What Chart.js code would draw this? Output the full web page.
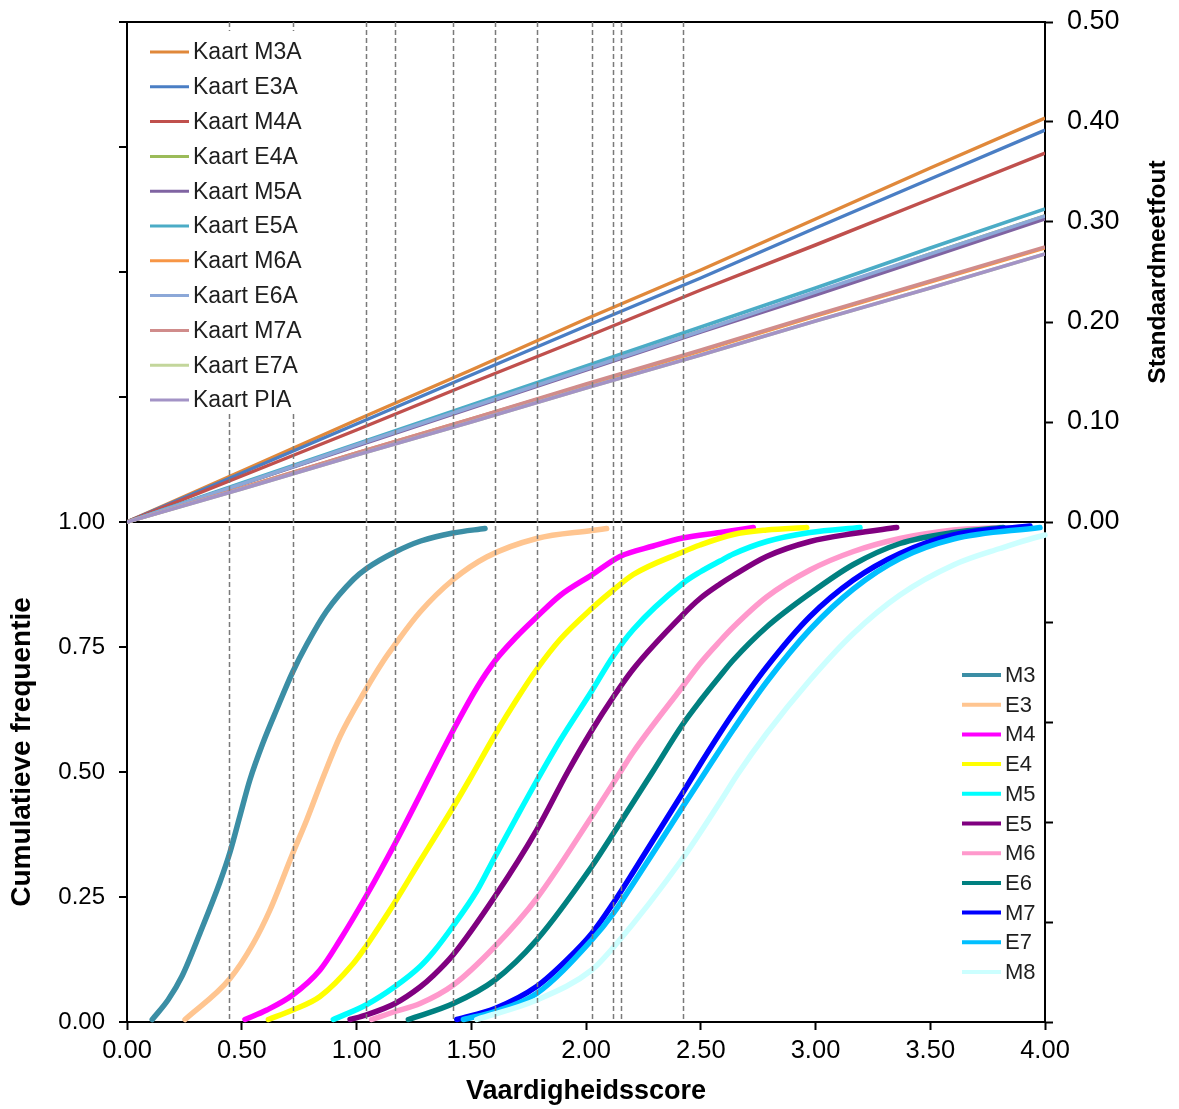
<!DOCTYPE html>
<html>
<head>
<meta charset="utf-8">
<title>Vaardigheidsscore – standaardmeetfout en cumulatieve frequentie</title>
<script src="https://cdn.jsdelivr.net/npm/chart.js@4.4.1/dist/chart.umd.min.js"></script>
<style>
  html, body { margin: 0; padding: 0; background: #ffffff; }
  canvas { display: block; }
</style>
</head>
<body>
<canvas id="chart" width="1179" height="1109"></canvas>
<script>
// ---- Standaardmeetfout per kaart (bovenste paneel, rechter as) ----
const seScores = [0, 0.5, 1.0, 1.5, 2.0, 2.5, 3.0, 3.5, 4.0];
const seM3A = [0, 0.051, 0.102, 0.152, 0.203, 0.252, 0.303, 0.354, 0.404];
const seE3A = [0, 0.049, 0.098, 0.147, 0.196, 0.244, 0.294, 0.343, 0.392];
const seM4A = [0, 0.046, 0.092, 0.139, 0.185, 0.232, 0.277, 0.323, 0.369];
const seE4A = [0, 0.038, 0.077, 0.115, 0.153, 0.191, 0.229, 0.268, 0.306];
const seM5A = [0, 0.038, 0.076, 0.114, 0.152, 0.190, 0.227, 0.265, 0.303];
const seE5A = [0, 0.039, 0.078, 0.117, 0.156, 0.195, 0.234, 0.274, 0.313];
const seM6A = [0, 0.034, 0.069, 0.103, 0.137, 0.171, 0.206, 0.240, 0.274];
const seE6A = [0, 0.038, 0.077, 0.115, 0.153, 0.191, 0.230, 0.268, 0.306];
const seM7A = [0, 0.034, 0.069, 0.103, 0.138, 0.172, 0.207, 0.241, 0.275];
const seE7A = [0, 0.033, 0.067, 0.100, 0.134, 0.167, 0.201, 0.234, 0.268];
const sePIA = [0, 0.033, 0.067, 0.100, 0.134, 0.167, 0.201, 0.234, 0.268];

const seLabels = ['Kaart M3A', 'Kaart E3A', 'Kaart M4A', 'Kaart E4A', 'Kaart M5A', 'Kaart E5A',
                  'Kaart M6A', 'Kaart E6A', 'Kaart M7A', 'Kaart E7A', 'Kaart PIA'];
const seSeries = [seM3A, seE3A, seM4A, seE4A, seM5A, seE5A, seM6A, seE6A, seM7A, seE7A, sePIA];

// ---- Cumulatieve frequentie per groep: [vaardigheidsscore, cumulatieve frequentie] ----
const cfM3 = [[0.11,0.005],[0.18,0.045],[0.24,0.092],[0.32,0.18],[0.405,0.28],[0.449,0.34],[0.492,0.412],[0.536,0.485],
  [0.594,0.56],[0.652,0.625],[0.722,0.7],[0.783,0.755],[0.87,0.822],[0.986,0.885],[1.044,0.907],
  [1.168,0.94],[1.28,0.962],[1.42,0.978],[1.56,0.987]];
const cfE3 = [[0.253,0.005],[0.449,0.087],[0.55,0.157],[0.623,0.224],[0.722,0.337],[0.783,0.404],[0.855,0.49],
  [0.928,0.571],[1.037,0.662],[1.117,0.722],[1.168,0.755],[1.277,0.82],[1.422,0.885],[1.567,0.93],
  [1.785,0.967],[2.025,0.983],[2.09,0.987]];
const cfM4 = [[0.514,0.005],[0.609,0.024],[0.722,0.054],[0.841,0.104],[0.928,0.164],[1.041,0.251],[1.168,0.357],
  [1.277,0.454],[1.313,0.487],[1.422,0.584],[1.524,0.668],[1.603,0.722],[1.698,0.771],[1.785,0.81],
  [1.887,0.853],[2.025,0.894],[2.148,0.931],[2.293,0.952],[2.421,0.968],[2.584,0.979],[2.729,0.989]];
const cfE4 = [[0.616,0.005],[0.722,0.024],[0.841,0.051],[0.986,0.117],[1.041,0.151],[1.102,0.193],[1.168,0.24],
  [1.277,0.322],[1.335,0.365],[1.422,0.43],[1.495,0.487],[1.603,0.574],[1.698,0.645],[1.785,0.705],
  [1.887,0.765],[2.025,0.827],[2.119,0.864],[2.206,0.895],[2.421,0.94],[2.497,0.954],[2.642,0.975],
  [2.787,0.984],[2.962,0.989]];
const cfM5 = [[0.899,0.005],[1.041,0.034],[1.168,0.071],[1.277,0.111],[1.335,0.14],[1.422,0.193],[1.524,0.262],
  [1.603,0.33],[1.698,0.41],[1.785,0.482],[1.887,0.563],[2.025,0.662],[2.119,0.732],[2.206,0.785],
  [2.421,0.877],[2.497,0.9],[2.584,0.922],[2.642,0.936],[2.787,0.961],[2.976,0.979],[3.194,0.989]];
const cfE5 = [[0.972,0.005],[1.041,0.014],[1.168,0.037],[1.277,0.07],[1.335,0.093],[1.422,0.135],[1.603,0.251],
  [1.785,0.384],[1.92,0.5],[2.025,0.583],[2.119,0.65],[2.206,0.706],[2.421,0.814],[2.497,0.847],
  [2.584,0.876],[2.642,0.893],[2.787,0.931],[2.976,0.961],[3.165,0.977],[3.354,0.989]];
const cfM6 = [[1.066,0.005],[1.168,0.021],[1.277,0.037],[1.422,0.074],[1.603,0.151],[1.785,0.247],[2.025,0.411],
  [2.15,0.5],[2.206,0.54],[2.421,0.671],[2.497,0.717],[2.584,0.762],[2.642,0.79],[2.787,0.85],
  [2.976,0.904],[3.165,0.941],[3.368,0.967],[3.601,0.984],[3.804,0.989]];
const cfE6 = [[1.226,0.005],[1.422,0.037],[1.603,0.084],[1.785,0.164],[2.025,0.311],[2.119,0.377],[2.29,0.5],
  [2.421,0.595],[2.497,0.642],[2.584,0.692],[2.642,0.724],[2.787,0.79],[2.976,0.857],[3.165,0.915],
  [3.368,0.957],[3.601,0.979],[3.818,0.989]];
const cfM7 = [[1.437,0.005],[1.603,0.027],[1.785,0.071],[1.916,0.124],[2.025,0.177],[2.119,0.238],[2.206,0.3],
  [2.421,0.458],[2.497,0.515],[2.584,0.578],[2.642,0.618],[2.787,0.71],[2.976,0.811],[3.165,0.884],
  [3.368,0.937],[3.601,0.974],[3.935,0.992]];
const cfE7 = [[1.466,0.005],[1.603,0.021],[1.785,0.057],[2.025,0.164],[2.119,0.217],[2.206,0.277],[2.421,0.43],
  [2.526,0.504],[2.642,0.585],[2.787,0.68],[2.976,0.785],[3.165,0.866],[3.368,0.927],[3.601,0.966],
  [3.978,0.989]];
const cfM8 = [[1.524,0.005],[1.785,0.044],[2.025,0.104],[2.134,0.157],[2.421,0.327],[2.584,0.44],[2.66,0.495],
  [2.787,0.577],[2.976,0.684],[3.165,0.777],[3.368,0.854],[3.601,0.914],[3.804,0.947],[4.0,0.974],
  [4.1,0.982],[4.24,0.99]];

const cfLabels = ['M3', 'E3', 'M4', 'E4', 'M5', 'E5', 'M6', 'E6', 'M7', 'E7', 'M8'];
const cfSeries = [cfM3, cfE3, cfM4, cfE4, cfM5, cfE5, cfM6, cfE6, cfM7, cfE7, cfM8];

// ---- Grensscores (verticale stippellijnen) ----
const cutScores = [0.446, 0.722, 1.041, 1.168, 1.422, 1.603, 1.785, 2.025, 2.119, 2.151, 2.421];

// ---- Tick values ----
const xTicks = [0, 0.5, 1.0, 1.5, 2.0, 2.5, 3.0, 3.5, 4.0];

// ---- Colours ----
const seColors = ['#E0883A', '#4A7EC4', '#C0504D', '#9BBB59', '#8064A2', '#4BACC6',
                  '#F79646', '#8CA8D8', '#D08C8B', '#C3D69B', '#A393C6'];
const cfColors = ['#3B8EA5', '#FFC590', '#FF00FF', '#FFFF00', '#00FFFF', '#800080',
                  '#FF99CC', '#008080', '#0000FF', '#00BFFF', '#CCFFFF'];

const FONT = "'Liberation Sans', Arial, Helvetica, sans-serif";

Chart.defaults.font.family = FONT;
Chart.defaults.color = '#000';

const datasets = [];
seSeries.forEach((vals, i) => {
  datasets.push({
    label: seLabels[i],
    group: 'se',
    yAxisID: 'ySE',
    data: vals.map((v, k) => ({ x: seScores[k], y: v })),
    borderColor: seColors[i],
    backgroundColor: seColors[i],
    borderWidth: 3.5,
    pointRadius: 0,
    tension: 0,
    fill: false,
    order: -i
  });
});
cfSeries.forEach((pts, i) => {
  datasets.push({
    label: cfLabels[i],
    group: 'cf',
    yAxisID: 'yCF',
    data: pts.map(p => ({ x: p[0], y: p[1] })),
    borderColor: cfColors[i],
    backgroundColor: cfColors[i],
    borderWidth: 5.5,
    borderCapStyle: 'round',
    borderJoinStyle: 'round',
    pointRadius: 0,
    cubicInterpolationMode: 'monotone',
    fill: false,
    clip: false,
    order: -i
  });
});

// Stippellijnen over beide panelen en de twee legenda's
const overlayPlugin = {
  id: 'overlay',
  afterDatasetsDraw(chart) {
    const ctx = chart.ctx;
    const xs = chart.scales.x;
    const area = chart.chartArea;

    ctx.save();
    ctx.strokeStyle = '#7a7a7a';
    ctx.lineWidth = 1.5;
    ctx.setLineDash([5, 3]);
    cutScores.forEach(v => {
      const px = Math.round(xs.getPixelForValue(v)) + 0.5;
      ctx.beginPath();
      ctx.moveTo(px, area.top);
      ctx.lineTo(px, area.bottom);
      ctx.stroke();
    });
    ctx.restore();

    const drawLegend = (group, cfg) => {
      const items = chart.data.datasets.filter(d => d.group === group);
      ctx.save();
      if (cfg.box) {
        ctx.fillStyle = '#ffffff';
        ctx.fillRect(cfg.box[0], cfg.box[1], cfg.box[2], cfg.box[3]);
      }
      ctx.font = cfg.font;
      ctx.textBaseline = 'middle';
      ctx.textAlign = 'left';
      items.forEach((d, i) => {
        const y = cfg.y0 + i * cfg.dy;
        ctx.strokeStyle = d.borderColor;
        ctx.lineWidth = cfg.lw;
        ctx.beginPath();
        ctx.moveTo(cfg.x0, y);
        ctx.lineTo(cfg.x0 + cfg.len, y);
        ctx.stroke();
        ctx.fillStyle = '#1e1e1e';
        ctx.fillText(d.label, cfg.x0 + cfg.len + 4, y + 1);
      });
      ctx.restore();
    };
    drawLegend('se', { box: [134, 31, 186, 381], x0: 150, y0: 52, dy: 34.8, len: 39, lw: 3, font: '23px ' + FONT });
    drawLegend('cf', { x0: 962, y0: 675, dy: 29.7, len: 39, lw: 4, font: '22px ' + FONT });
  },
  afterDraw(chart) {
    const ctx = chart.ctx;
    const yCF = chart.scales.yCF;
    const ySE = chart.scales.ySE;
    ctx.save();
    ctx.fillStyle = '#000';
    ctx.textAlign = 'center';
    ctx.textBaseline = 'middle';

    // linker astitel, bij het onderste paneel
    ctx.save();
    ctx.translate(22, yCF.getPixelForValue(0.54));
    ctx.rotate(-Math.PI / 2);
    ctx.font = 'bold 28px ' + FONT;
    ctx.fillText('Cumulatieve frequentie', 0, 0);
    ctx.restore();

    // rechter astitel, bij het bovenste paneel
    ctx.save();
    ctx.translate(1158, ySE.getPixelForValue(0.25));
    ctx.rotate(-Math.PI / 2);
    ctx.font = 'bold 24.5px ' + FONT;
    ctx.fillText('Standaardmeetfout', 0, 0);
    ctx.restore();

    ctx.restore();
  }
};

new Chart(document.getElementById('chart'), {
  type: 'line',
  data: { datasets },
  options: {
    responsive: false,
    animation: false,
    events: [],
    layout: { padding: { top: 22, left: 0, right: 0, bottom: 0 } },
    plugins: {
      legend: { display: false },
      tooltip: { enabled: false }
    },
    scales: {
      x: {
        type: 'linear',
        position: 'bottom',
        min: 0,
        max: 4,
        afterFit(s) { s.height = 87; s.paddingLeft = 0; s.paddingRight = 0; },
        afterBuildTicks(s) { s.ticks = xTicks.map(v => ({ value: v })); },
        ticks: {
          callback: v => v.toFixed(2),
          color: '#000',
          font: { size: 25.5 },
          padding: 6,
          maxRotation: 0,
          autoSkip: false
        },
        grid: { drawOnChartArea: false, drawTicks: true, tickLength: 8, tickColor: '#000', tickWidth: 2 },
        border: { color: '#000', width: 2 },
        title: {
          display: true,
          text: 'Vaardigheidsscore',
          color: '#000',
          font: { size: 27, weight: 'bold' },
          padding: { top: 0, bottom: 1 }
        }
      },
      yCF: {
        type: 'linear',
        position: 'left',
        min: 0,
        max: 2,
        afterFit(s) { s.width = 127; s.paddingTop = 0; s.paddingBottom = 0; },
        ticks: {
          stepSize: 0.25,
          callback: v => (v <= 1.0001 ? v.toFixed(2) : ''),
          color: '#000',
          font: { size: 24 },
          padding: 14
        },
        grid: {
          color: c => (c.tick && (Math.abs(c.tick.value - 1) < 1e-6 || Math.abs(c.tick.value - 2) < 1e-6)) ? '#000' : 'rgba(0,0,0,0)',
          lineWidth: 2,
          drawTicks: true,
          tickLength: 8,
          tickColor: '#000',
          tickWidth: 2
        },
        border: { color: '#000', width: 2 }
      },
      ySE: {
        type: 'linear',
        position: 'right',
        min: -0.5,
        max: 0.5,
        afterFit(s) { s.width = 134; s.paddingTop = 0; s.paddingBottom = 0; },
        ticks: {
          stepSize: 0.1,
          callback: v => (Math.abs(v) < 1e-6 ? '0.00' : (v > 0 ? v.toFixed(2) : '')),
          color: '#000',
          font: { size: 27 },
          padding: 14
        },
        grid: { drawOnChartArea: false, drawTicks: true, tickLength: 8, tickColor: '#000', tickWidth: 2 },
        border: { color: '#000', width: 2 }
      }
    }
  },
  plugins: [overlayPlugin]
});
</script>
</body>
</html>
